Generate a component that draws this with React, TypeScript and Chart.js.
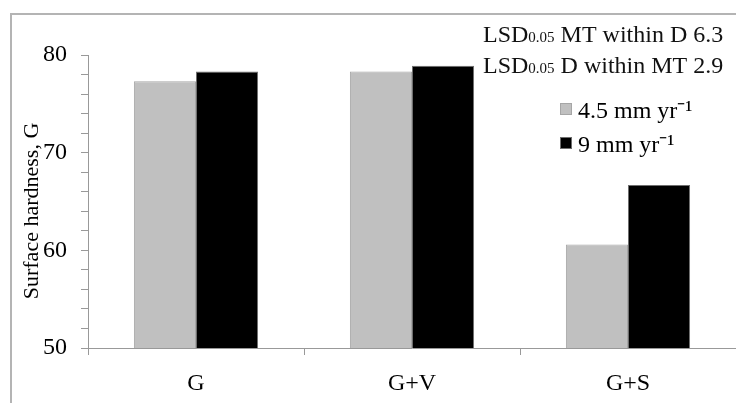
import React, { useEffect, useRef } from "react";
import { Chart, registerables } from "chart.js";

Chart.register(...registerables);

const categories = ["G", "G+V", "G+S"];
const seriesLabels = ["4.5 mm yr⁻¹", "9 mm yr⁻¹"];
const rate45 = [77.3, 78.3, 60.6];
const rate9 = [78.3, 78.9, 66.7];
const yMin = 50;
const yMax = 80;
const yMinorStep = 2;
const yMajorStep = 10;
const yTitle = "Surface hardness, G";
const lsdLines = [
  { head: "LSD", sub: "0.05", rest: " MT within D 6.3" },
  { head: "LSD", sub: "0.05", rest: " D within MT 2.9" },
];

const FONT = "'Liberation Serif', 'Times New Roman', serif";

const overlayPlugin = {
  id: "overlay",
  afterDraw(chart: any) {
    const ctx = chart.ctx as CanvasRenderingContext2D;
    const W = chart.width;
    const H = chart.height;
    ctx.save();
    // outer frame (top and left edges visible)
    ctx.strokeStyle = "#b4b4b4";
    ctx.lineWidth = 2;
    ctx.beginPath();
    ctx.moveTo(11, H);
    ctx.lineTo(11, 14);
    ctx.lineTo(W, 14);
    ctx.stroke();

    // y axis title
    ctx.save();
    ctx.translate(32, 211);
    ctx.rotate(-Math.PI / 2);
    ctx.font = `22px ${FONT}`;
    ctx.textAlign = "center";
    ctx.textBaseline = "middle";
    ctx.fillStyle = "#000";
    ctx.fillText(yTitle, 0, 0);
    ctx.restore();

    // LSD annotation
    ctx.fillStyle = "#111";
    ctx.textBaseline = "alphabetic";
    ctx.textAlign = "left";
    lsdLines.forEach((ln, i) => {
      const y = 42 + i * 31;
      let x = 483;
      ctx.font = `24px ${FONT}`;
      ctx.fillText(ln.head, x, y);
      x += ctx.measureText(ln.head).width;
      ctx.font = `15px ${FONT}`;
      ctx.fillText(ln.sub, x, y);
      x += ctx.measureText(ln.sub).width;
      ctx.font = `24px ${FONT}`;
      ctx.fillText(ln.rest, x, y);
    });

    // legend
    chart.data.datasets.forEach((ds: any, i: number) => {
      const base = 118 + i * 34;
      ctx.fillStyle = ds.backgroundColor;
      ctx.fillRect(560, base - 15, 12, 12);
      ctx.strokeStyle = ds.borderColor;
      ctx.lineWidth = 1;
      ctx.strokeRect(560.5, base - 14.5, 11, 11);
      ctx.fillStyle = "#000";
      ctx.font = `24px ${FONT}`;
      ctx.fillText(ds.label, 578, base);
    });
    ctx.restore();
  },
};

export default function App() {
  const ref = useRef<HTMLCanvasElement | null>(null);
  useEffect(() => {
    if (!ref.current) return;
    const chart = new Chart(ref.current, {
      type: "bar",
      data: {
        labels: categories,
        datasets: [
          {
            label: seriesLabels[0],
            data: rate45,
            backgroundColor: "#c0c0c0",
            borderColor: "#a6a6a6",
            borderWidth: 1,
          },
          {
            label: seriesLabels[1],
            data: rate9,
            backgroundColor: "#000000",
            borderColor: "#6e6e6e",
            borderWidth: 1,
          },
        ],
      },
      options: {
        responsive: false,
        animation: false,
        layout: { padding: { top: 55, right: 0, left: 0, bottom: 0 } },
        datasets: { bar: { categoryPercentage: 0.575, barPercentage: 1 } },
        plugins: {
          legend: { display: false },
          tooltip: { enabled: false },
          title: { display: false },
        },
        scales: {
          x: {
            afterFit: (s: any) => {
              s.height = 55;
            },
            grid: {
              drawOnChartArea: false,
              drawTicks: true,
              tickLength: 7,
              color: "#999",
              offset: true,
            },
            border: { color: "#999", width: 1 },
            ticks: {
              color: "#000",
              font: { family: FONT, size: 24 },
              padding: 14,
            },
          },
          y: {
            min: yMin,
            max: yMax,
            afterFit: (s: any) => {
              s.width = 88;
            },
            grid: {
              drawOnChartArea: false,
              drawTicks: true,
              tickLength: 7,
              color: "#999",
            },
            border: { color: "#999", width: 1 },
            ticks: {
              stepSize: yMinorStep,
              autoSkip: false,
              color: "#000",
              font: { family: FONT, size: 24 },
              padding: 14,
              callback: (v: any) => (Number(v) % yMajorStep === 0 ? String(v) : ""),
            },
          },
        },
      },
      plugins: [overlayPlugin],
    });
    return () => chart.destroy();
  }, []);
  return (
    <div style={{ position: "absolute", left: 0, top: 0, width: 736, height: 403, background: "#fff" }}>
      <canvas ref={ref} width={736} height={403} />
    </div>
  );
}
